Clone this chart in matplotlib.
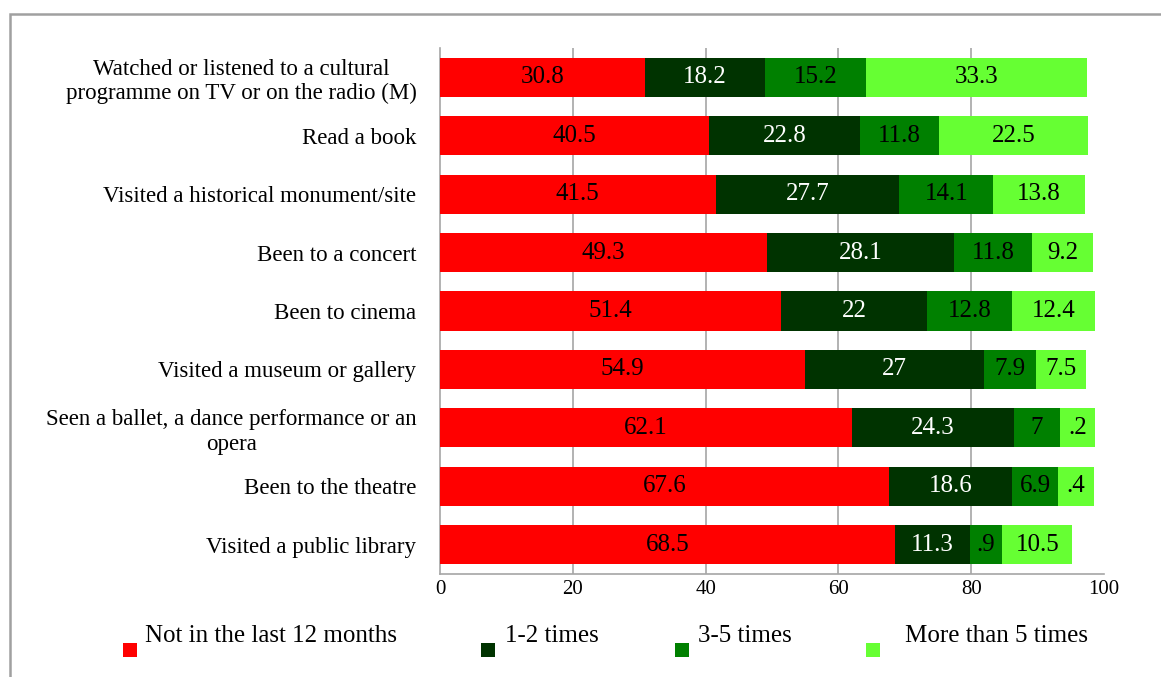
import matplotlib
matplotlib.use('Agg')
import matplotlib.pyplot as plt
import matplotlib.patches as mpatches
import numpy as np

plt.rcParams['font.family'] = ['Liberation Serif', 'DejaVu Serif']

categories = [
    "Watched or listened to a cultural\nprogramme on TV or on the radio (M)",
    "Read a book",
    "Visited a historical monument/site",
    "Been to a concert",
    "Been to cinema",
    "Visited a museum or gallery",
    "Seen a ballet, a dance performance or an\nopera",
    "Been to the theatre",
    "Visited a public library",
]
series_names = ["Not in the last 12 months", "1-2 times", "3-5 times", "More than 5 times"]
not_12m = [30.8, 40.5, 41.5, 49.3, 51.4, 54.9, 62.1, 67.6, 68.5]
times_1_2 = [18.2, 22.8, 27.7, 28.1, 22, 27, 24.3, 18.6, 11.3]
times_3_5 = [15.2, 11.8, 14.1, 11.8, 12.8, 7.9, 7, 6.9, 4.9]
more_5 = [33.3, 22.5, 13.8, 9.2, 12.4, 7.5, 5.2, 5.4, 10.5]
# labels that are cut off in the original chart (series index, row index)
cut_labels = {(3, 6): '.2', (3, 7): '.4', (2, 8): '.9'}

COLORS = ['#FF0000', '#003300', '#008000', '#66FF33']
TEXT_COLORS = ['black', 'white', 'black', 'black']

fig = plt.figure(figsize=(11.61, 6.77), dpi=100)
fig.patch.set_facecolor('white')
ax = fig.add_axes([440 / 1161, 1 - 574 / 677, 664 / 1161, 526 / 677])

y = np.arange(len(categories))
left = np.zeros(len(categories))
for s, vals in enumerate([not_12m, times_1_2, times_3_5, more_5]):
    vals = np.array(vals, dtype=float)
    bars = ax.barh(y, vals, left=left, height=0.67, color=COLORS[s], linewidth=0, zorder=3)
    for i, (bar, v) in enumerate(zip(bars, vals)):
        txt = cut_labels.get((s, i), f"{v:g}")
        ax.text(bar.get_x() + bar.get_width() / 2, bar.get_y() + bar.get_height() / 2, txt,
                ha='center', va='center', fontsize=18, color=TEXT_COLORS[s], zorder=4)
    left += vals

ax.set_xlim(0, 100)
ax.set_ylim(len(categories) - 0.5, -0.5)
ax.set_xticks([0, 20, 40, 60, 80, 100])
ax.set_yticks(y)
ax.set_yticklabels(categories, fontsize=16.5, multialignment='center')
ax.tick_params(axis='y', length=0, pad=17)
ax.tick_params(axis='x', length=0, pad=4, labelsize=15)
for xv in [20, 40, 60, 80]:
    ax.axvline(xv, color='#A6A6A6', lw=1.2, zorder=1)
for side in ['top', 'right']:
    ax.spines[side].set_visible(False)
for side in ['left', 'bottom']:
    ax.spines[side].set_color('#A6A6A6')
    ax.spines[side].set_linewidth(1.2)

# legend: small squares sitting just below the start of each label
sq_x = [123, 481, 675, 866]
txt_x = [145, 505, 698, 905]
for c, name, sx, tx in zip(COLORS, series_names, sq_x, txt_x):
    fig.add_artist(mpatches.Rectangle((sx / 1161, 1 - 657 / 677), 14 / 1161, 14 / 677,
                                      transform=fig.transFigure, facecolor=c,
                                      edgecolor='none'))
    fig.text(tx / 1161, 1 - 642 / 677, name, fontsize=18, ha='left', va='baseline')

# outer frame of the original chart area
fig.add_artist(mpatches.Rectangle((10 / 1161, -0.05), 1.1, 1.05 - 14 / 677,
                                  transform=fig.transFigure, facecolor='none',
                                  edgecolor='#A0A0A0', linewidth=1.8))

fig.savefig('out.png', dpi=100, facecolor='white')
